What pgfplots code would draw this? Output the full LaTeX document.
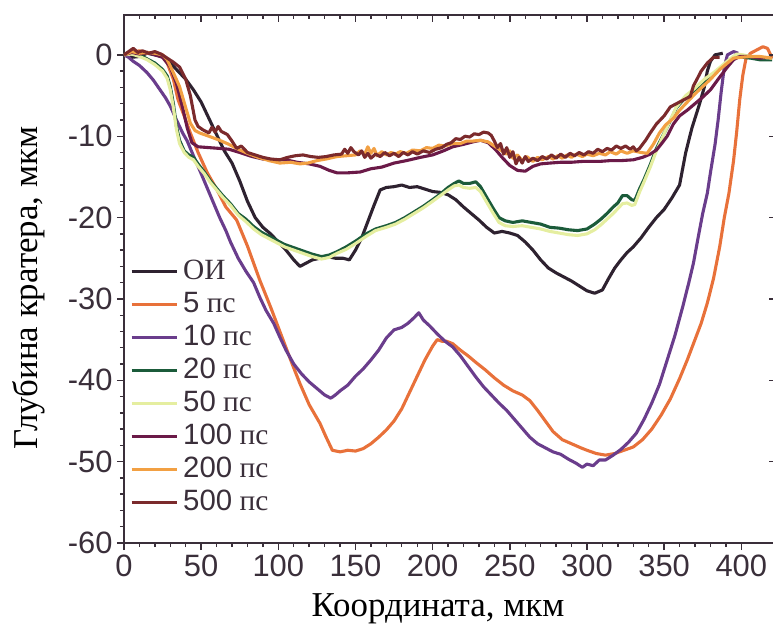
\documentclass[border=0pt]{standalone}
\usepackage{fontspec}
\setmainfont{Liberation Serif}
\newfontfamily\sansf{Liberation Sans}
\usepackage{pgfplots}
\pgfplotsset{compat=1.18}
\definecolor{axc}{HTML}{3A2F3A}
\definecolor{cOI}{HTML}{2E2230}
\definecolor{c5}{HTML}{E8713A}
\definecolor{c10}{HTML}{6A3D8C}
\definecolor{c20}{HTML}{1B5B3A}
\definecolor{c50}{HTML}{E5EEA0}
\definecolor{c100}{HTML}{6B1A48}
\definecolor{c200}{HTML}{F2A043}
\definecolor{c500}{HTML}{7B2A2C}
\begin{document}
\begin{tikzpicture}
\begin{axis}[name=ax,
  scale only axis, width=652bp, height=528bp,
  xmin=0, xmax=422.5, ymin=-60, ymax=4.9,
  xtick={0,50,...,400}, ytick={-60,-50,...,0},
  minor x tick num=4, minor y tick num=4,
  xtick pos=lower, ytick pos=left, tick align=outside,
  major tick length=7bp, minor tick length=4bp,
  axis line style={line width=1.6bp, color=axc},
  every tick/.style={line width=1.4bp, color=axc},
  /pgf/number format/assume math mode=true,
  ticklabel style={font=\sansf\fontsize{31}{33}\selectfont, text=axc},
  xticklabel style={yshift=-1bp},
  yticklabel style={xshift=-1bp},
  xlabel={Координата, мкм},
  ylabel={Глубина кратера, мкм},
  label style={font=\fontsize{35}{38}\selectfont, text=black},
  xlabel style={at={(axis description cs:0.4816,-0.140)}, anchor=base},
  ylabel style={at={(axis description cs:-0.133,0.483)}, anchor=base, rotate=0},
  legend cell align=left,
  legend style={draw=none, fill=none, at={(axis description cs:0.009,0.546)}, anchor=north west,
    font=\fontsize{29.5}{32}\selectfont, text=axc, inner sep=0pt, row sep=0pt,
    nodes={inner sep=1bp, text height=24bp, text depth=7bp}},
  legend image code/.code={\draw[#1] (0bp,0bp) -- (45bp,0bp); \path (49bp,0bp);},
  every axis plot/.append style={line width=3.1bp, line join=round},
]
\addplot[cOI] coordinates {(0,0) (5,-0.3) (10,-0.2) (15,0.2) (20,0) (25,-0.2) (30,-1) (35,-2) (40,-3) (45,-4.3) (50,-5.8) (55,-7.8) (60,-9.8) (65,-11.8) (70,-13.3) (75,-15.5) (80,-18) (85,-20) (90,-21.2) (95,-22) (100,-23) (105,-24) (110,-25.2) (114,-26) (118,-25.6) (122,-25.2) (127,-25) (132,-24.8) (137,-25) (142,-25) (146,-25.2) (150,-24) (154,-22.5) (158,-20.5) (162,-18.5) (166,-16.6) (170,-16.3) (175,-16.2) (180,-16) (185,-16.3) (190,-16.2) (195,-16.5) (200,-16.8) (205,-16.9) (210,-17.2) (215,-17.8) (220,-18.7) (225,-19.5) (230,-20.3) (235,-21.2) (240,-21.9) (245,-21.7) (250,-21.9) (255,-22.2) (260,-23) (265,-24) (270,-25.2) (275,-26.2) (280,-26.8) (285,-27.3) (290,-27.8) (295,-28.4) (300,-29) (305,-29.3) (310,-28.9) (314,-27.5) (318,-26.2) (322,-25.2) (326,-24.3) (330,-23.6) (335,-22.5) (340,-21.2) (345,-20) (350,-19) (355,-17.6) (360,-16) (362,-14) (364,-12) (366,-10.5) (368,-9) (370,-7.8) (373,-6) (376,-4) (378,-2) (380,-0.8) (383,0) (388,0.2)};
\addlegendentry{ОИ}
\addplot[c5] coordinates {(0,0) (5,0.3) (10,0.5) (15,0.2) (20,0.3) (25,-0.2) (28,-1) (32,-3) (35,-5.5) (39,-7.5) (43,-9.6) (48,-12) (54,-14.5) (60,-16.5) (66,-18.7) (73,-20.3) (80,-23.5) (88,-27.7) (95,-31) (103,-35) (109,-38) (114,-40.4) (120,-43) (127,-45.3) (131,-47) (135,-48.6) (140,-48.8) (145,-48.6) (150,-48.7) (155,-48.4) (160,-47.8) (165,-47) (170,-46.1) (175,-45) (180,-43.5) (185,-41.5) (190,-39.5) (195,-37.5) (200,-35.8) (203,-35) (206,-35.2) (209,-35.2) (213,-35.5) (218,-36.3) (223,-37) (228,-37.8) (234,-38.7) (240,-39.7) (246,-40.6) (252,-41.3) (258,-41.8) (263,-42.5) (268,-43.7) (273,-45) (278,-46.3) (284,-47.3) (290,-47.8) (296,-48.3) (300,-48.6) (306,-49) (312,-49.2) (318,-49) (324,-48.6) (330,-48.2) (336,-47.3) (342,-46) (348,-44.3) (354,-42.3) (360,-39.8) (365,-37.5) (369,-35.5) (374,-33) (378,-30.5) (382,-27.5) (386,-23.6) (389,-20) (392,-17) (395,-13) (397,-9.5) (399,-5.5) (401,-2.5) (403,-0.5) (406,0.2) (410,0.6) (414,1) (417,0.8) (420,-0.4)};
\addlegendentry{{\sansf 5} пс}
\addplot[c10] coordinates {(0,0) (3,-0.3) (6,-0.8) (10,-1.3) (15,-2.2) (19,-3.1) (23,-4.2) (27,-5.3) (30,-6.3) (34,-8) (38,-9.6) (41,-10.6) (45,-12.4) (50,-14.6) (54,-16.4) (58,-18.2) (62,-20) (66,-21.6) (69,-23) (74,-25) (79,-26.6) (84,-28) (88,-29.8) (92,-31.4) (97,-33) (101,-34.7) (105,-36.3) (110,-38) (115,-39.2) (120,-40.2) (125,-41) (130,-41.8) (134,-42.2) (137,-41.8) (140,-41.3) (145,-40.6) (150,-39.5) (155,-38.6) (160,-37.5) (165,-36.3) (170,-34.8) (175,-33.8) (180,-33.5) (184,-33) (188,-32.3) (191,-31.7) (194,-32.6) (198,-33.3) (203,-34.3) (208,-35.2) (213,-35.9) (218,-37) (223,-38.3) (228,-39.6) (233,-40.8) (238,-41.8) (243,-42.8) (248,-43.7) (253,-44.8) (258,-45.9) (263,-47) (268,-47.8) (273,-48.3) (278,-48.8) (283,-49.1) (288,-49.7) (293,-50.2) (297,-50.7) (300,-50.3) (304,-50.5) (308,-49.8) (312,-49.8) (317,-49.2) (322,-48.5) (327,-47.6) (332,-46.5) (337,-44.8) (342,-42.8) (347,-40.5) (352,-37.5) (357,-34.5) (362,-31) (366,-28) (369,-25.6) (372,-22.5) (375,-19.5) (378,-17) (380,-14.5) (383,-11) (385,-8) (387,-4.5) (389,-1.5) (391,0) (395,0.4) (398,0.2)};
\addlegendentry{{\sansf 10} пс}
\addplot[c20] coordinates {(0,0) (5,0.2) (10,0) (15,-0.5) (20,-1) (25,-1.8) (28,-2.6) (30,-3.9) (32,-6) (34,-8.8) (36,-10.5) (39,-11.8) (42,-12.3) (45,-12.6) (48,-13.4) (52,-14.4) (56,-15.5) (60,-16.4) (64,-17.3) (69,-18.3) (74,-19.5) (79,-20.2) (84,-21.1) (89,-21.8) (94,-22.3) (99,-22.8) (104,-23.3) (110,-23.7) (116,-24.1) (122,-24.5) (128,-24.8) (133,-24.6) (138,-24.2) (144,-23.6) (150,-22.9) (157,-22) (163,-21.4) (170,-21) (176,-20.6) (182,-20) (188,-19.3) (194,-18.6) (200,-17.8) (205,-17.1) (210,-16.3) (214,-15.8) (217,-15.5) (220,-15.8) (224,-15.8) (228,-15.6) (231,-16.2) (235,-17.5) (239,-18.8) (243,-20) (247,-20.4) (252,-20.6) (258,-20.4) (264,-20.6) (270,-20.8) (276,-21.2) (282,-21.3) (288,-21.5) (294,-21.6) (300,-21.4) (305,-20.8) (309,-20.2) (313,-19.5) (317,-18.7) (320,-18.2) (323,-17.3) (326,-17.3) (329,-17.8) (331,-17.9) (334,-16.5) (337,-15.3) (341,-13.5) (345,-11.5) (349,-10) (353,-8.5) (358,-6.5) (364,-5.2) (370,-4.3) (376,-3.2) (382,-2.4) (387,-1.6) (392,-0.8) (397,0) (401,-0.3) (406,-0.4) (412,-0.6) (420,-0.6)};
\addlegendentry{{\sansf 20} пс}
\addplot[c50] coordinates {(0,0) (5,0.1) (10,-0.2) (15,-0.6) (20,-1.2) (25,-2) (28,-2.9) (30,-4.3) (32,-6.5) (34,-9.2) (36,-10.9) (39,-12) (42,-12.6) (45,-12.9) (48,-13.7) (52,-14.6) (56,-15.7) (60,-16.6) (64,-17.5) (69,-18.5) (74,-19.7) (79,-20.5) (84,-21.4) (89,-22.1) (94,-22.6) (99,-23.1) (104,-23.6) (110,-24) (116,-24.4) (122,-24.8) (128,-25.1) (133,-24.9) (138,-24.4) (144,-23.9) (150,-23.2) (157,-22.3) (163,-21.6) (170,-21.2) (176,-20.8) (182,-20.2) (188,-19.5) (194,-18.8) (200,-18) (205,-17.3) (210,-16.6) (214,-16.1) (217,-16) (220,-16.3) (224,-16.4) (228,-16.3) (231,-16.8) (235,-18.1) (239,-19.4) (243,-20.6) (247,-21) (252,-21.1) (258,-21) (264,-21.2) (270,-21.4) (276,-21.7) (282,-21.9) (288,-22.1) (294,-22.2) (300,-22) (305,-21.5) (309,-20.9) (313,-20.2) (317,-19.5) (320,-18.9) (323,-18.3) (326,-18.2) (329,-18.5) (331,-18.4) (334,-16.9) (337,-15.6) (341,-13.8) (345,-11.8) (349,-10.1) (353,-8.4) (358,-6.4) (364,-5) (370,-4.1) (376,-3) (382,-2.2) (387,-1.4) (392,-0.6) (397,0.1) (401,0) (406,-0.2) (412,-0.3) (420,-0.4)};
\addlegendentry{{\sansf 50} пс}
\addplot[c100] coordinates {(0,0) (5,0.3) (10,0.1) (15,0.3) (20,0) (25,-0.3) (30,-1.5) (34,-3.5) (38,-6.5) (41,-9) (44,-10.8) (48,-11.3) (55,-11.4) (62,-11.5) (68,-11.6) (75,-12) (83,-12.5) (90,-12.8) (97,-12.9) (105,-12.9) (112,-13.2) (120,-13.4) (127,-13.7) (133,-14.2) (138,-14.5) (145,-14.5) (153,-14.4) (160,-14) (167,-13.8) (175,-13.3) (183,-13) (192,-12.6) (200,-12.3) (207,-11.8) (213,-11.3) (220,-11) (226,-10.7) (231,-10.5) (236,-10.8) (241,-11.7) (245,-12.6) (250,-13.6) (255,-14.2) (260,-14.3) (265,-13.7) (270,-13.4) (276,-13.3) (283,-13.2) (290,-13.2) (297,-13.1) (303,-13.1) (308,-13.1) (315,-13) (322,-13) (330,-12.9) (336,-12.6) (341,-12.2) (345,-11.7) (348,-11) (352,-10) (356,-8.5) (360,-7.5) (365,-6.8) (370,-6) (375,-5.2) (380,-4.3) (385,-3) (391,-1.5) (395,-0.6) (399,-0.2) (405,-0.2) (412,-0.4) (420,-0.3)};
\addlegendentry{{\sansf 100} пс}
\addplot[c200] coordinates {(0,0) (5,0.4) (10,0.2) (15,0.3) (20,0.2) (25,0) (28,-0.6) (32,-2.2) (36,-3.9) (40,-6.5) (43,-8.4) (46,-9.3) (49,-9.6) (55,-10) (62,-10.5) (68,-11) (74,-11.6) (80,-12.1) (87,-12.6) (94,-13) (101,-13.3) (108,-13.2) (114,-13.4) (119,-13.3) (125,-13) (131,-12.8) (138,-12.5) (144,-12.4) (150,-12.3) (153,-11.8) (156,-12.2) (158,-11.3) (160,-12.1) (162,-11.5) (164,-12.4) (167,-11.9) (170,-12.3) (173,-12.0) (176,-12.2) (179,-11.9) (183,-12.1) (187,-11.7) (192,-11.8) (196,-11.4) (200,-11.5) (204,-11.1) (208,-11.2) (213,-10.9) (218,-10.9) (222,-10.6) (226,-10.6) (231,-10.5) (236,-10.7) (240,-11.2) (244,-11.7) (248,-12.2) (250,-11.8) (252,-12.7) (255,-12.3) (258,-13.0) (261,-12.5) (265,-13.1) (268,-12.6) (271,-12.9) (275,-12.5) (278,-12.8) (281,-12.4) (284,-12.7) (287,-12.3) (290,-12.6) (293,-12.2) (297,-12.5) (300,-12.2) (304,-12.4) (308,-12.1) (312,-12.3) (315,-11.9) (319,-12.2) (322,-11.8) (326,-12.1) (330,-11.8) (335,-12) (339,-12.1) (343,-11) (347,-9.6) (351,-8.6) (356,-7.8) (360,-6.8) (365,-5.8) (370,-4.8) (375,-3.9) (380,-3) (386,-1.8) (391,-1) (395,-0.4) (400,-0.3) (406,-0.2) (412,-0.2) (420,-0.4)};
\addlegendentry{{\sansf 200} пс}
\addplot[c500] coordinates {(0,0) (3,0.4) (6,0.8) (9,0.3) (12,0.5) (16,0.2) (20,0.4) (24,0.1) (28,-0.4) (32,-0.9) (36,-1.5) (40,-3) (43,-5) (46,-8) (48,-8.8) (51,-9.2) (55,-9.6) (57,-8.9) (59,-9.5) (61,-8.8) (63,-9.4) (67,-9.8) (70,-10.6) (73,-11.5) (76,-11.2) (80,-12) (85,-12.3) (90,-12.6) (95,-12.8) (101,-12.9) (106,-12.6) (111,-12.4) (116,-12.3) (121,-12.5) (126,-12.6) (131,-12.5) (136,-12.3) (141,-12.2) (143,-11.6) (145,-12.1) (147,-11.4) (149,-11.9) (152,-12.3) (154,-11.8) (156,-12.6) (158,-12.1) (160,-12.7) (163,-12.2) (166,-12.5) (169,-12.0) (172,-12.4) (175,-12.1) (178,-12.5) (181,-12.0) (184,-12.3) (187,-11.9) (190,-12.2) (194,-11.8) (198,-12.0) (202,-11.6) (206,-11.4) (209,-11.0) (212,-10.8) (215,-10.3) (218,-10.4) (221,-10.0) (224,-10.1) (227,-9.7) (230,-9.8) (233,-9.5) (236,-9.6) (238,-9.9) (240,-10.6) (242,-11.4) (244,-10.9) (246,-12.2) (248,-11.4) (250,-12.6) (252,-11.9) (254,-13.4) (256,-12.6) (258,-13.3) (260,-12.5) (262,-13.1) (265,-12.7) (268,-13.0) (271,-12.5) (274,-12.8) (277,-12.3) (280,-12.7) (283,-12.2) (286,-12.6) (289,-12.1) (292,-12.4) (295,-12.0) (298,-12.3) (301,-11.9) (304,-12.1) (307,-11.6) (310,-11.9) (313,-11.5) (316,-11.7) (319,-11.2) (322,-11.5) (325,-11.2) (328,-11.6) (330,-11.3) (332,-11.8) (334,-11.5) (336,-11.0) (338,-10.5) (341,-9.6) (345,-8.5) (350,-7.5) (354,-6.4) (358,-6) (362,-5.6) (367,-5.1) (369,-3.8) (371,-3.1) (374,-2) (378,-1) (382,-0.3) (386,-0.3)};
\addlegendentry{{\sansf 500} пс}
\end{axis}
\begin{axis}[
  scale only axis, width=652bp, height=528bp,
  xmin=0, xmax=422.5, ymin=-60, ymax=4.9,
  axis line style={draw=none},
  xtick={0,50,...,400}, ytick={-60,-50,...,0},
  minor x tick num=4,
  xtick pos=upper, ytick pos=right, tick align=inside,
  major tick length=7bp, minor tick length=4bp,
  every tick/.style={line width=1.4bp, color=axc},
  xticklabels={}, yticklabels={},
]
\end{axis}
\pgfresetboundingbox
\path[use as bounding box] ([xshift=-124bp,yshift=-85bp]ax.south west) rectangle ([xshift=-3bp,yshift=15bp]ax.north east);
\end{tikzpicture}
\end{document}
